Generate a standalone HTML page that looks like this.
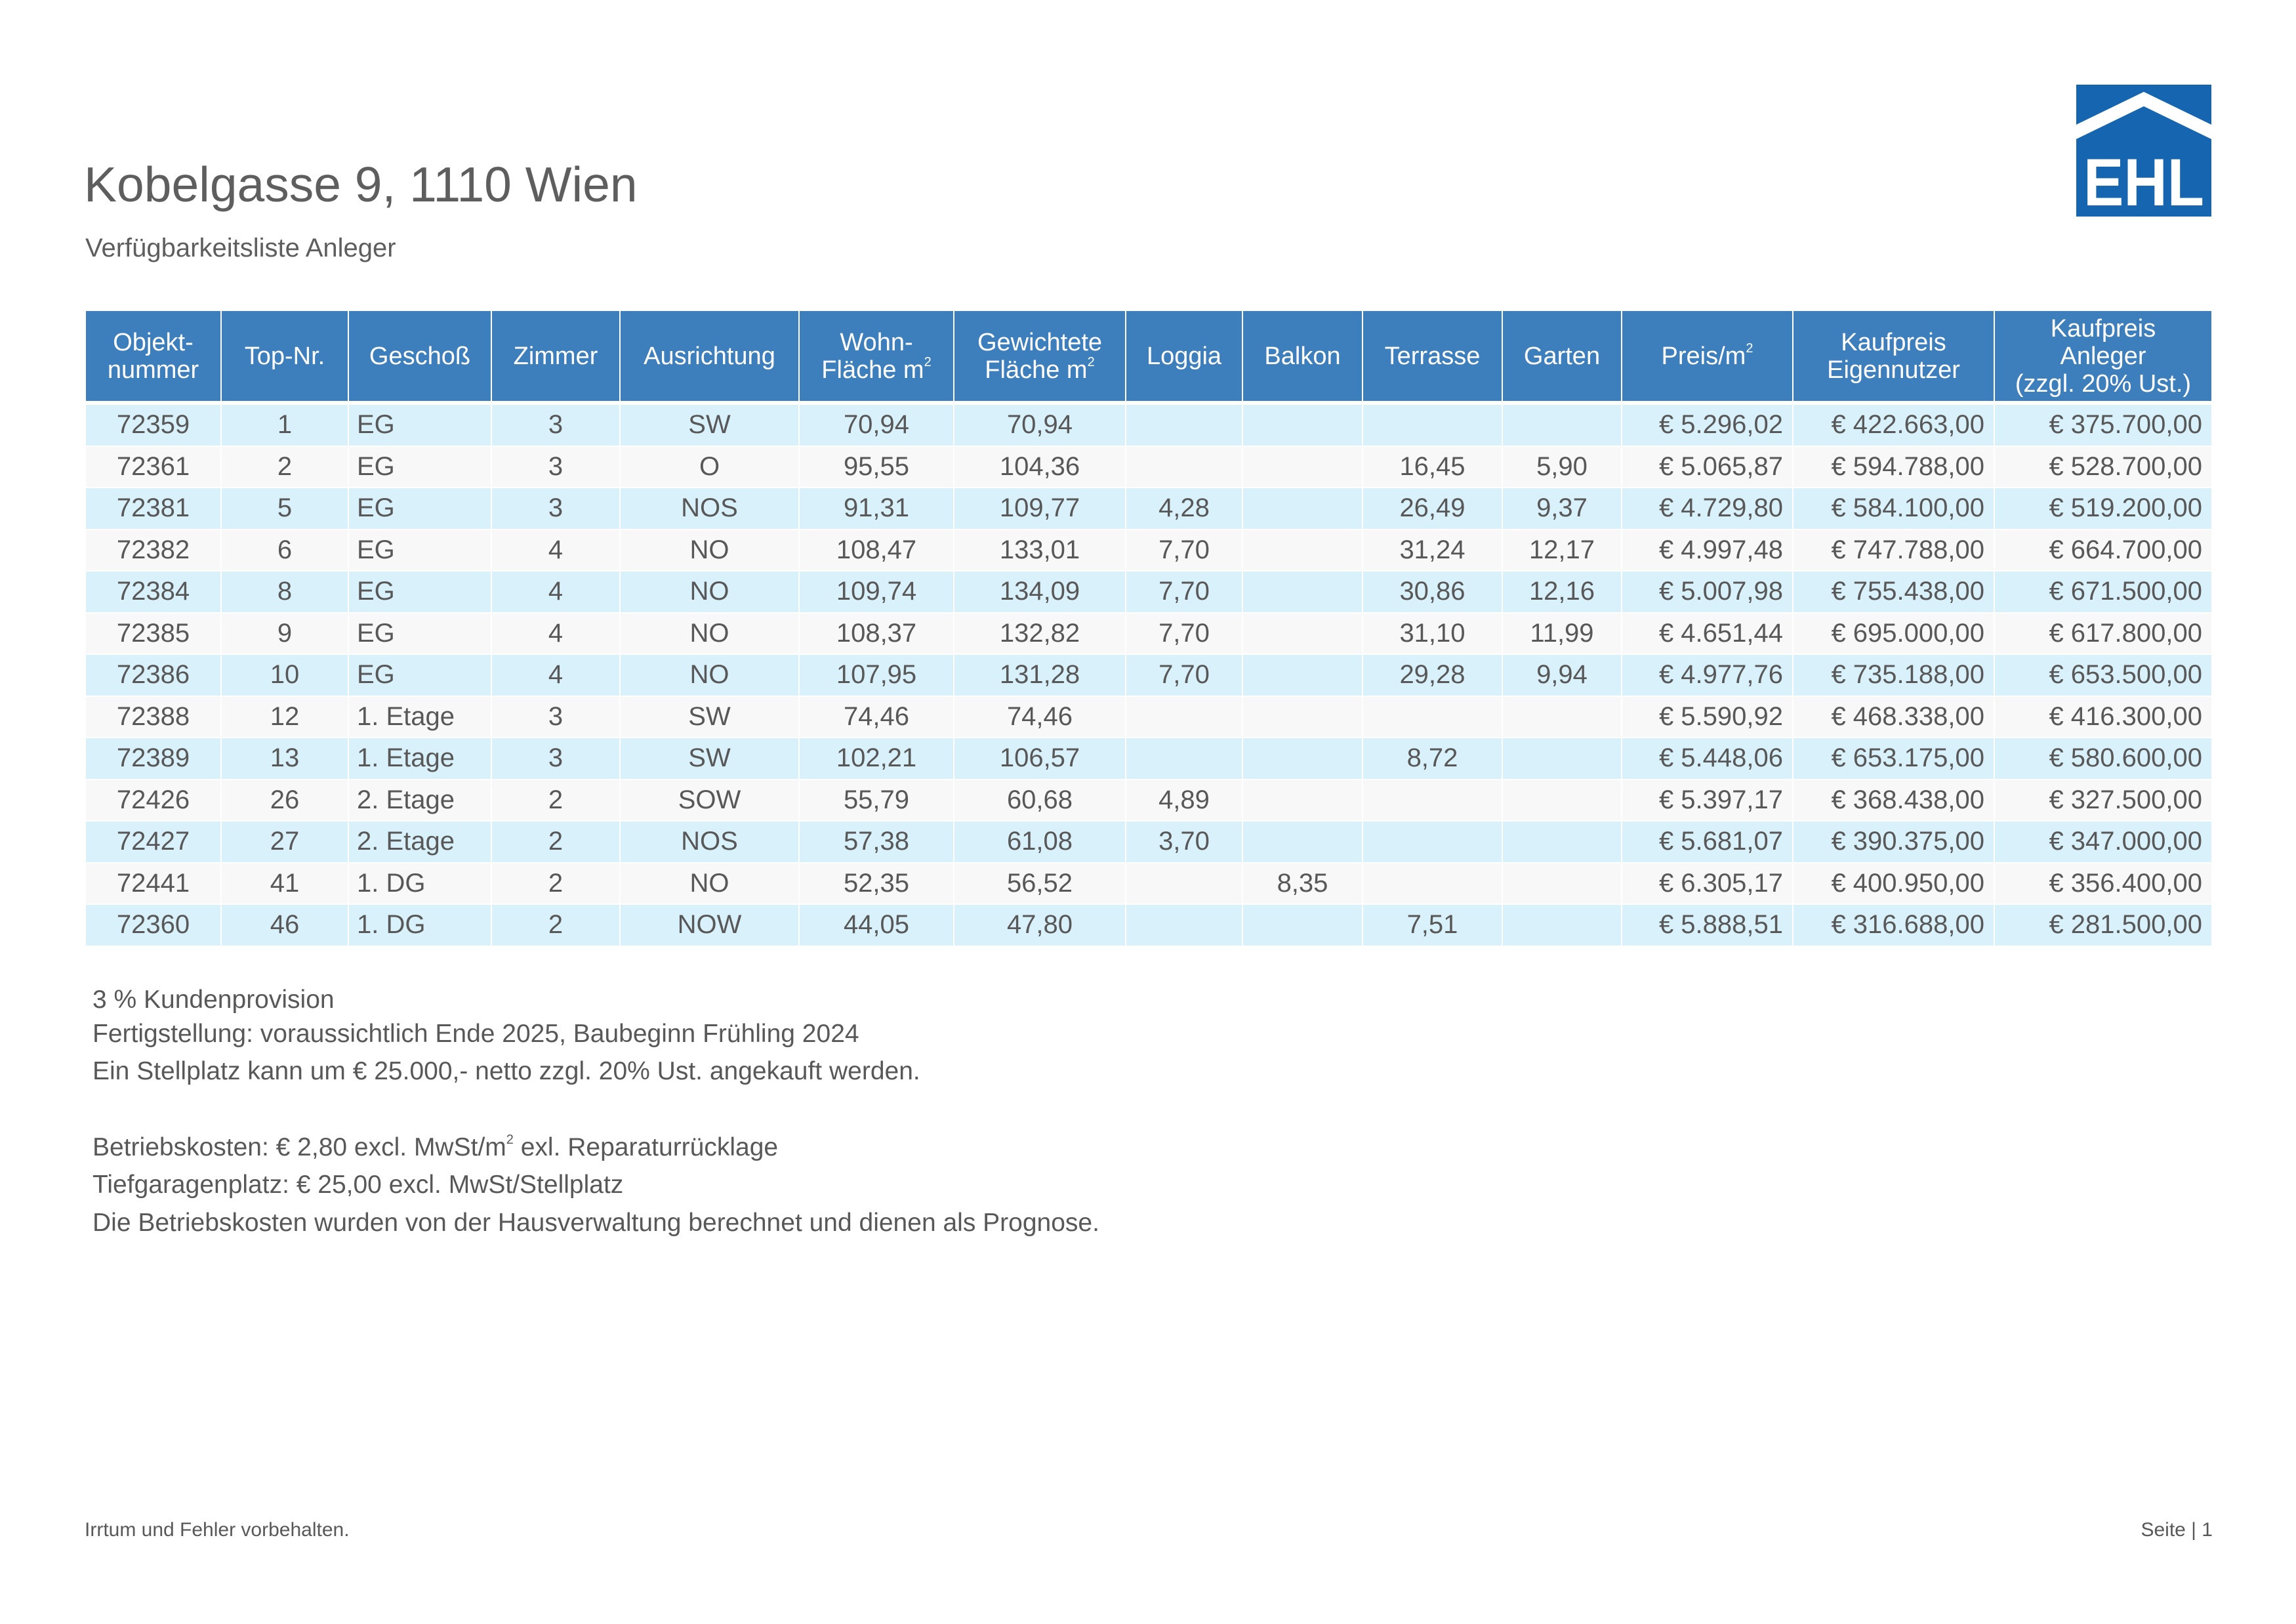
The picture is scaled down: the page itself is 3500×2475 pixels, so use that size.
<!DOCTYPE html>
<html><head><meta charset="utf-8"><style>
body{margin:0;width:3500px;height:2475px;background:#fff;position:relative;overflow:hidden;font-family:"Liberation Sans",sans-serif;color:#585858}
.t{position:absolute;white-space:nowrap}
table{position:absolute;left:129px;top:472px;border-collapse:collapse;table-layout:fixed;width:3242px}
td,th{border:2px solid #fff;padding:0;font-size:40px;font-weight:normal;overflow:hidden;white-space:nowrap}
th{background:#3d7ebd;color:#fff;height:137px;line-height:42px;font-size:38px}
tr.h{border-bottom:6px solid #fff}
td{height:61.5px;text-align:center}
tr.a td{background:#d9f1fb}
tr.b td{background:#f8f8f8}
td.l{text-align:left;padding-left:12px}
td.r{text-align:right;padding-right:14px}
sup{font-size:20px;vertical-align:18px;line-height:0}
.n{left:141px;font-size:39px}
</style></head><body>
<div class="t" style="left:128px;top:238px;font-size:75px;color:#5e5e5e">Kobelgasse 9, 1110 Wien</div>
<div class="t" style="left:130px;top:356px;font-size:40px;color:#5e5e5e">Verfügbarkeitsliste Anleger</div>
<svg style="position:absolute;left:3165px;top:129px" width="206" height="201" viewBox="0 0 206 201">
<rect width="206" height="201" fill="#1565b0"/>
<polygon points="0,61 103,11 206,61 206,83 103,33 0,83" fill="#fff"/>
<text x="103" y="184" text-anchor="middle" font-family="Liberation Sans" font-weight="bold" font-size="102" fill="#fff" textLength="184" lengthAdjust="spacingAndGlyphs">EHL</text>
</svg>
<table>
<colgroup><col style="width:207px"><col style="width:194px"><col style="width:218px"><col style="width:196px"><col style="width:273px"><col style="width:236px"><col style="width:262px"><col style="width:178px"><col style="width:183px"><col style="width:213px"><col style="width:182px"><col style="width:261px"><col style="width:307px"><col style="width:332px"></colgroup>
<tr class="h"><th>Objekt-<br>nummer</th><th>Top-Nr.</th><th>Geschoß</th><th>Zimmer</th><th>Ausrichtung</th><th>Wohn-<br>Fläche m<sup>2</sup></th><th>Gewichtete<br>Fläche m<sup>2</sup></th><th>Loggia</th><th>Balkon</th><th>Terrasse</th><th>Garten</th><th>Preis/m<sup>2</sup></th><th>Kaufpreis<br>Eigennutzer</th><th>Kaufpreis<br>Anleger<br>(zzgl. 20% Ust.)</th></tr>
<tr class="a"><td>72359</td><td>1</td><td class="l">EG</td><td>3</td><td>SW</td><td>70,94</td><td>70,94</td><td></td><td></td><td></td><td></td><td class="r">€ 5.296,02</td><td class="r">€ 422.663,00</td><td class="r">€ 375.700,00</td></tr>
<tr class="b"><td>72361</td><td>2</td><td class="l">EG</td><td>3</td><td>O</td><td>95,55</td><td>104,36</td><td></td><td></td><td>16,45</td><td>5,90</td><td class="r">€ 5.065,87</td><td class="r">€ 594.788,00</td><td class="r">€ 528.700,00</td></tr>
<tr class="a"><td>72381</td><td>5</td><td class="l">EG</td><td>3</td><td>NOS</td><td>91,31</td><td>109,77</td><td>4,28</td><td></td><td>26,49</td><td>9,37</td><td class="r">€ 4.729,80</td><td class="r">€ 584.100,00</td><td class="r">€ 519.200,00</td></tr>
<tr class="b"><td>72382</td><td>6</td><td class="l">EG</td><td>4</td><td>NO</td><td>108,47</td><td>133,01</td><td>7,70</td><td></td><td>31,24</td><td>12,17</td><td class="r">€ 4.997,48</td><td class="r">€ 747.788,00</td><td class="r">€ 664.700,00</td></tr>
<tr class="a"><td>72384</td><td>8</td><td class="l">EG</td><td>4</td><td>NO</td><td>109,74</td><td>134,09</td><td>7,70</td><td></td><td>30,86</td><td>12,16</td><td class="r">€ 5.007,98</td><td class="r">€ 755.438,00</td><td class="r">€ 671.500,00</td></tr>
<tr class="b"><td>72385</td><td>9</td><td class="l">EG</td><td>4</td><td>NO</td><td>108,37</td><td>132,82</td><td>7,70</td><td></td><td>31,10</td><td>11,99</td><td class="r">€ 4.651,44</td><td class="r">€ 695.000,00</td><td class="r">€ 617.800,00</td></tr>
<tr class="a"><td>72386</td><td>10</td><td class="l">EG</td><td>4</td><td>NO</td><td>107,95</td><td>131,28</td><td>7,70</td><td></td><td>29,28</td><td>9,94</td><td class="r">€ 4.977,76</td><td class="r">€ 735.188,00</td><td class="r">€ 653.500,00</td></tr>
<tr class="b"><td>72388</td><td>12</td><td class="l">1. Etage</td><td>3</td><td>SW</td><td>74,46</td><td>74,46</td><td></td><td></td><td></td><td></td><td class="r">€ 5.590,92</td><td class="r">€ 468.338,00</td><td class="r">€ 416.300,00</td></tr>
<tr class="a"><td>72389</td><td>13</td><td class="l">1. Etage</td><td>3</td><td>SW</td><td>102,21</td><td>106,57</td><td></td><td></td><td>8,72</td><td></td><td class="r">€ 5.448,06</td><td class="r">€ 653.175,00</td><td class="r">€ 580.600,00</td></tr>
<tr class="b"><td>72426</td><td>26</td><td class="l">2. Etage</td><td>2</td><td>SOW</td><td>55,79</td><td>60,68</td><td>4,89</td><td></td><td></td><td></td><td class="r">€ 5.397,17</td><td class="r">€ 368.438,00</td><td class="r">€ 327.500,00</td></tr>
<tr class="a"><td>72427</td><td>27</td><td class="l">2. Etage</td><td>2</td><td>NOS</td><td>57,38</td><td>61,08</td><td>3,70</td><td></td><td></td><td></td><td class="r">€ 5.681,07</td><td class="r">€ 390.375,00</td><td class="r">€ 347.000,00</td></tr>
<tr class="b"><td>72441</td><td>41</td><td class="l">1. DG</td><td>2</td><td>NO</td><td>52,35</td><td>56,52</td><td></td><td>8,35</td><td></td><td></td><td class="r">€ 6.305,17</td><td class="r">€ 400.950,00</td><td class="r">€ 356.400,00</td></tr>
<tr class="a"><td>72360</td><td>46</td><td class="l">1. DG</td><td>2</td><td>NOW</td><td>44,05</td><td>47,80</td><td></td><td></td><td>7,51</td><td></td><td class="r">€ 5.888,51</td><td class="r">€ 316.688,00</td><td class="r">€ 281.500,00</td></tr>
</table>
<div class="t n" style="top:1502px">3 % Kundenprovision</div>
<div class="t n" style="top:1554px">Fertigstellung: voraussichtlich Ende 2025, Baubeginn Frühling 2024</div>
<div class="t n" style="top:1611px">Ein Stellplatz kann um € 25.000,- netto zzgl. 20% Ust. angekauft werden.</div>
<div class="t n" style="top:1727px">Betriebskosten: € 2,80 excl. MwSt/m<sup>2</sup> exl. Reparaturrücklage</div>
<div class="t n" style="top:1784px">Tiefgaragenplatz: € 25,00 excl. MwSt/Stellplatz</div>
<div class="t n" style="top:1842px">Die Betriebskosten wurden von der Hausverwaltung berechnet und dienen als Prognose.</div>
<div class="t" style="left:129px;top:2315px;font-size:30px">Irrtum und Fehler vorbehalten.</div>
<div class="t" style="right:127px;top:2315px;font-size:30px">Seite | 1</div>
</body></html>
